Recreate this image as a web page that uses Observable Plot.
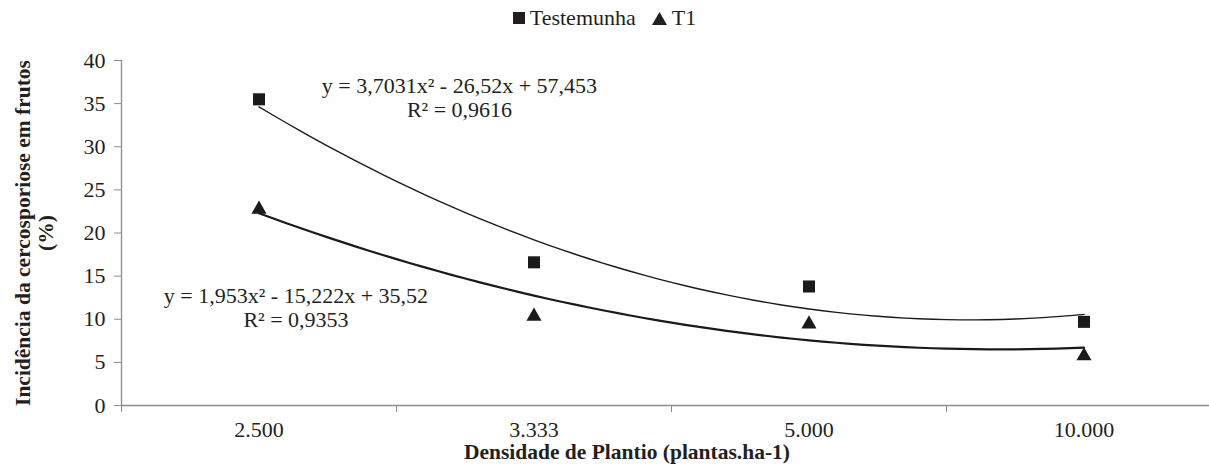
<!DOCTYPE html>
<html><head><meta charset="utf-8">
<script src="https://cdn.jsdelivr.net/npm/d3@7"></script>
<script src="https://cdn.jsdelivr.net/npm/@observablehq/plot@0.6"></script>
<style>
html,body{margin:0;padding:0;background:#fff;overflow:hidden;width:1209px;height:465px}
#legend{height:36px;display:flex;justify-content:center;align-items:center;font-family:"Liberation Serif","Times New Roman",serif;font-size:22px;color:#231f20;}
#legend .item{display:flex;align-items:center;}
#legend svg{margin-right:5px}
#chart svg{overflow:hidden}
</style></head><body>
<div id="legend"></div><div id="chart"></div>
<script>
const categories = ["2.500", "3.333", "5.000", "10.000"];
const seriesNames = ["Testemunha", "T1"];
const testemunha = [35.5, 16.6, 13.8, 9.7];
const t1 = [23.0, 10.6, 9.7, 6.0];
const yTicks = [0, 5, 10, 15, 20, 25, 30, 35, 40];
const eqTexts = ["y = 3,7031x² - 26,52x + 57,453\nR² = 0,9616", "y = 1,953x² - 15,222x + 35,52\nR² = 0,9353"];
const xTitle = "Densidade de Plantio (plantas.ha-1)";
const yTitle = "Incidência da cercosporiose em frutos\n(%)";

const ink = "#231f20";
const axisGray = "#8c8c8c";
const serif = '"Liberation Serif", "Times New Roman", serif';

const ptsTest = categories.map((c, i) => ({x: i + 1, y: testemunha[i]}));
const ptsT1 = categories.map((c, i) => ({x: i + 1, y: t1[i]}));

// quadratic least-squares trendline from the data (as the spreadsheet draws it)
function polyfit2(pts) {
  const S = k => d3.sum(pts, p => p.x ** k);
  const T = k => d3.sum(pts, p => p.y * p.x ** k);
  const A = [[S(4), S(3), S(2), T(2)], [S(3), S(2), S(1), T(1)], [S(2), S(1), S(0), T(0)]];
  for (let i = 0; i < 3; i++) {
    for (let j = i + 1; j < 3; j++) {
      const f = A[j][i] / A[i][i];
      for (let k = i; k < 4; k++) A[j][k] -= f * A[i][k];
    }
  }
  const c = [0, 0, 0];
  for (let i = 2; i >= 0; i--) {
    let s = A[i][3];
    for (let k = i + 1; k < 3; k++) s -= A[i][k] * c[k];
    c[i] = s / A[i][i];
  }
  return c;
}
const trend = (pts) => {
  const c = polyfit2(pts);
  return d3.range(1, 4.0001, 0.05).map(x => ({x, y: c[0] * x * x + c[1] * x + c[2]}));
};

// legend
document.getElementById("legend").innerHTML =
  `<span class="item"><svg width="12" height="12"><rect width="12" height="12" fill="${ink}"/></svg>${seriesNames[0]}</span>` +
  `<span class="item" style="margin-left:16px"><svg width="15" height="13"><path d="M7.5 0L15 13H0Z" fill="${ink}"/></svg>${seriesNames[1]}</span>`;

const plot = Plot.plot({
  width: 1209, height: 429,
  marginLeft: 121, marginRight: 0, marginTop: 24, marginBottom: 60,
  x: {domain: [0.5, 4.5], range: [121, 1221]},
  y: {domain: [0, 40], range: [369, 24]},
  style: {fontFamily: serif, fontSize: "22px", color: ink, background: "white"},
  marks: [
    Plot.ruleY([0], {x1: 0.5, x2: 4.5, stroke: axisGray, strokeWidth: 1.3}),
    Plot.ruleX([0.5], {y1: 0, y2: 40, stroke: axisGray, strokeWidth: 1.3}),
    Plot.axisY({ticks: yTicks, tickSize: 7, tickFormat: () => "", stroke: axisGray, label: null}),
    Plot.axisY({ticks: yTicks, tickSize: 0, tickPadding: 16, label: null, fontSize: 22}),
    Plot.axisX({ticks: [0.5, 1.5, 2.5, 3.5, 4.5], tickSize: 7, tickFormat: () => "", stroke: axisGray, label: null}),
    Plot.axisX({ticks: [1, 2, 3, 4], tickSize: 0, tickPadding: 16, tickFormat: i => categories[i - 1], label: null, fontSize: 22}),
    Plot.line(trend(ptsTest), {x: "x", y: "y", stroke: "#1a1a1a", strokeWidth: 1.4}),
    Plot.line(trend(ptsT1), {x: "x", y: "y", stroke: "#1a1a1a", strokeWidth: 2.2}),
    Plot.dot(ptsTest, {x: "x", y: "y", symbol: "square", r: 6.8, fill: "#1a1a1a"}),
    Plot.dot(ptsT1, {x: "x", y: "y", symbol: "triangle", r: 5.6, dy: 2.2, fill: "#1a1a1a"}),
    Plot.text([eqTexts[0]], {x: [1.729], y: [35.71], text: d => d, lineHeight: 1.09, fontSize: 22, fill: ink}),
    Plot.text([eqTexts[1]], {x: [1.1345], y: [11.42], text: d => d, lineHeight: 1.09, fontSize: 22, fill: ink}),
    Plot.text([xTitle], {x: [2.338], y: [0], dy: 47, text: d => d, fontWeight: "bold", fontSize: 21.5, fill: ink}),
    Plot.text([yTitle], {frameAnchor: "left", textAnchor: "middle", rotate: -90, dx: -87.5, text: d => d, fontWeight: "bold", fontSize: 21.5, lineHeight: 1.07, fill: ink})
  ]
});
document.getElementById("chart").appendChild(plot);
</script>
</body></html>
